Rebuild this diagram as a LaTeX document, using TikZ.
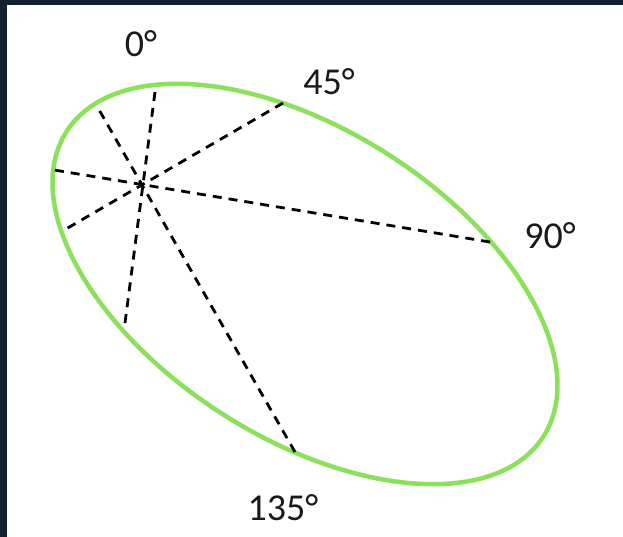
\documentclass[tikz,border=0pt]{standalone}
\usepackage{fontspec}
\setmainfont{Carlito}
\usepackage{tikz}
\usetikzlibrary{positioning,calc}
\definecolor{framenavy}{HTML}{13202F}
\definecolor{ringgreen}{HTML}{8BE05C}
\definecolor{labelink}{HTML}{1A1A1A}

\begin{document}
\begin{tikzpicture}[x=1pt, y=-1pt, ring/.style={draw=ringgreen, line width=4.5pt}, chord/.style={draw=black, line width=2.8pt, dash pattern=on 9pt off 7pt}, angle/.style={font=\fontsize{38}{40}\selectfont, text=labelink, inner sep=0pt, anchor=center}]
% frame
\fill[framenavy] (0,0) rectangle (623,537);
\fill[white] (7,5) rectangle (623,537);
\useasboundingbox (0,0) rectangle (623,537);
% ellipse
\coordinate (ctr) at (305,284);
\draw[ring, rotate around={-32.6:(ctr)}] (ctr) ellipse [x radius=283pt, y radius=154pt];
% chord ends
\coordinate (hub) at (143,185);
\coordinate (a0) at (155,92);    \coordinate (b0) at (125,323);
\coordinate (a45) at (283,103);  \coordinate (b45) at (66,229);
\coordinate (a90) at (490,242);  \coordinate (b90) at (54,170);
\coordinate (a135) at (295,452); \coordinate (b135) at (98,108);
\foreach \k in {0,45,90,135}
  \draw[chord] (a\k) -- (b\k);
% labels
\node[angle] (l0) at (141,44) {0°};
\node[angle] (l45) at (329,82) {45°};
\node[angle] (l90) at (550,236) {90°};
\node[angle] (l135) at (283,508) {135°};
\end{tikzpicture}
\end{document}
